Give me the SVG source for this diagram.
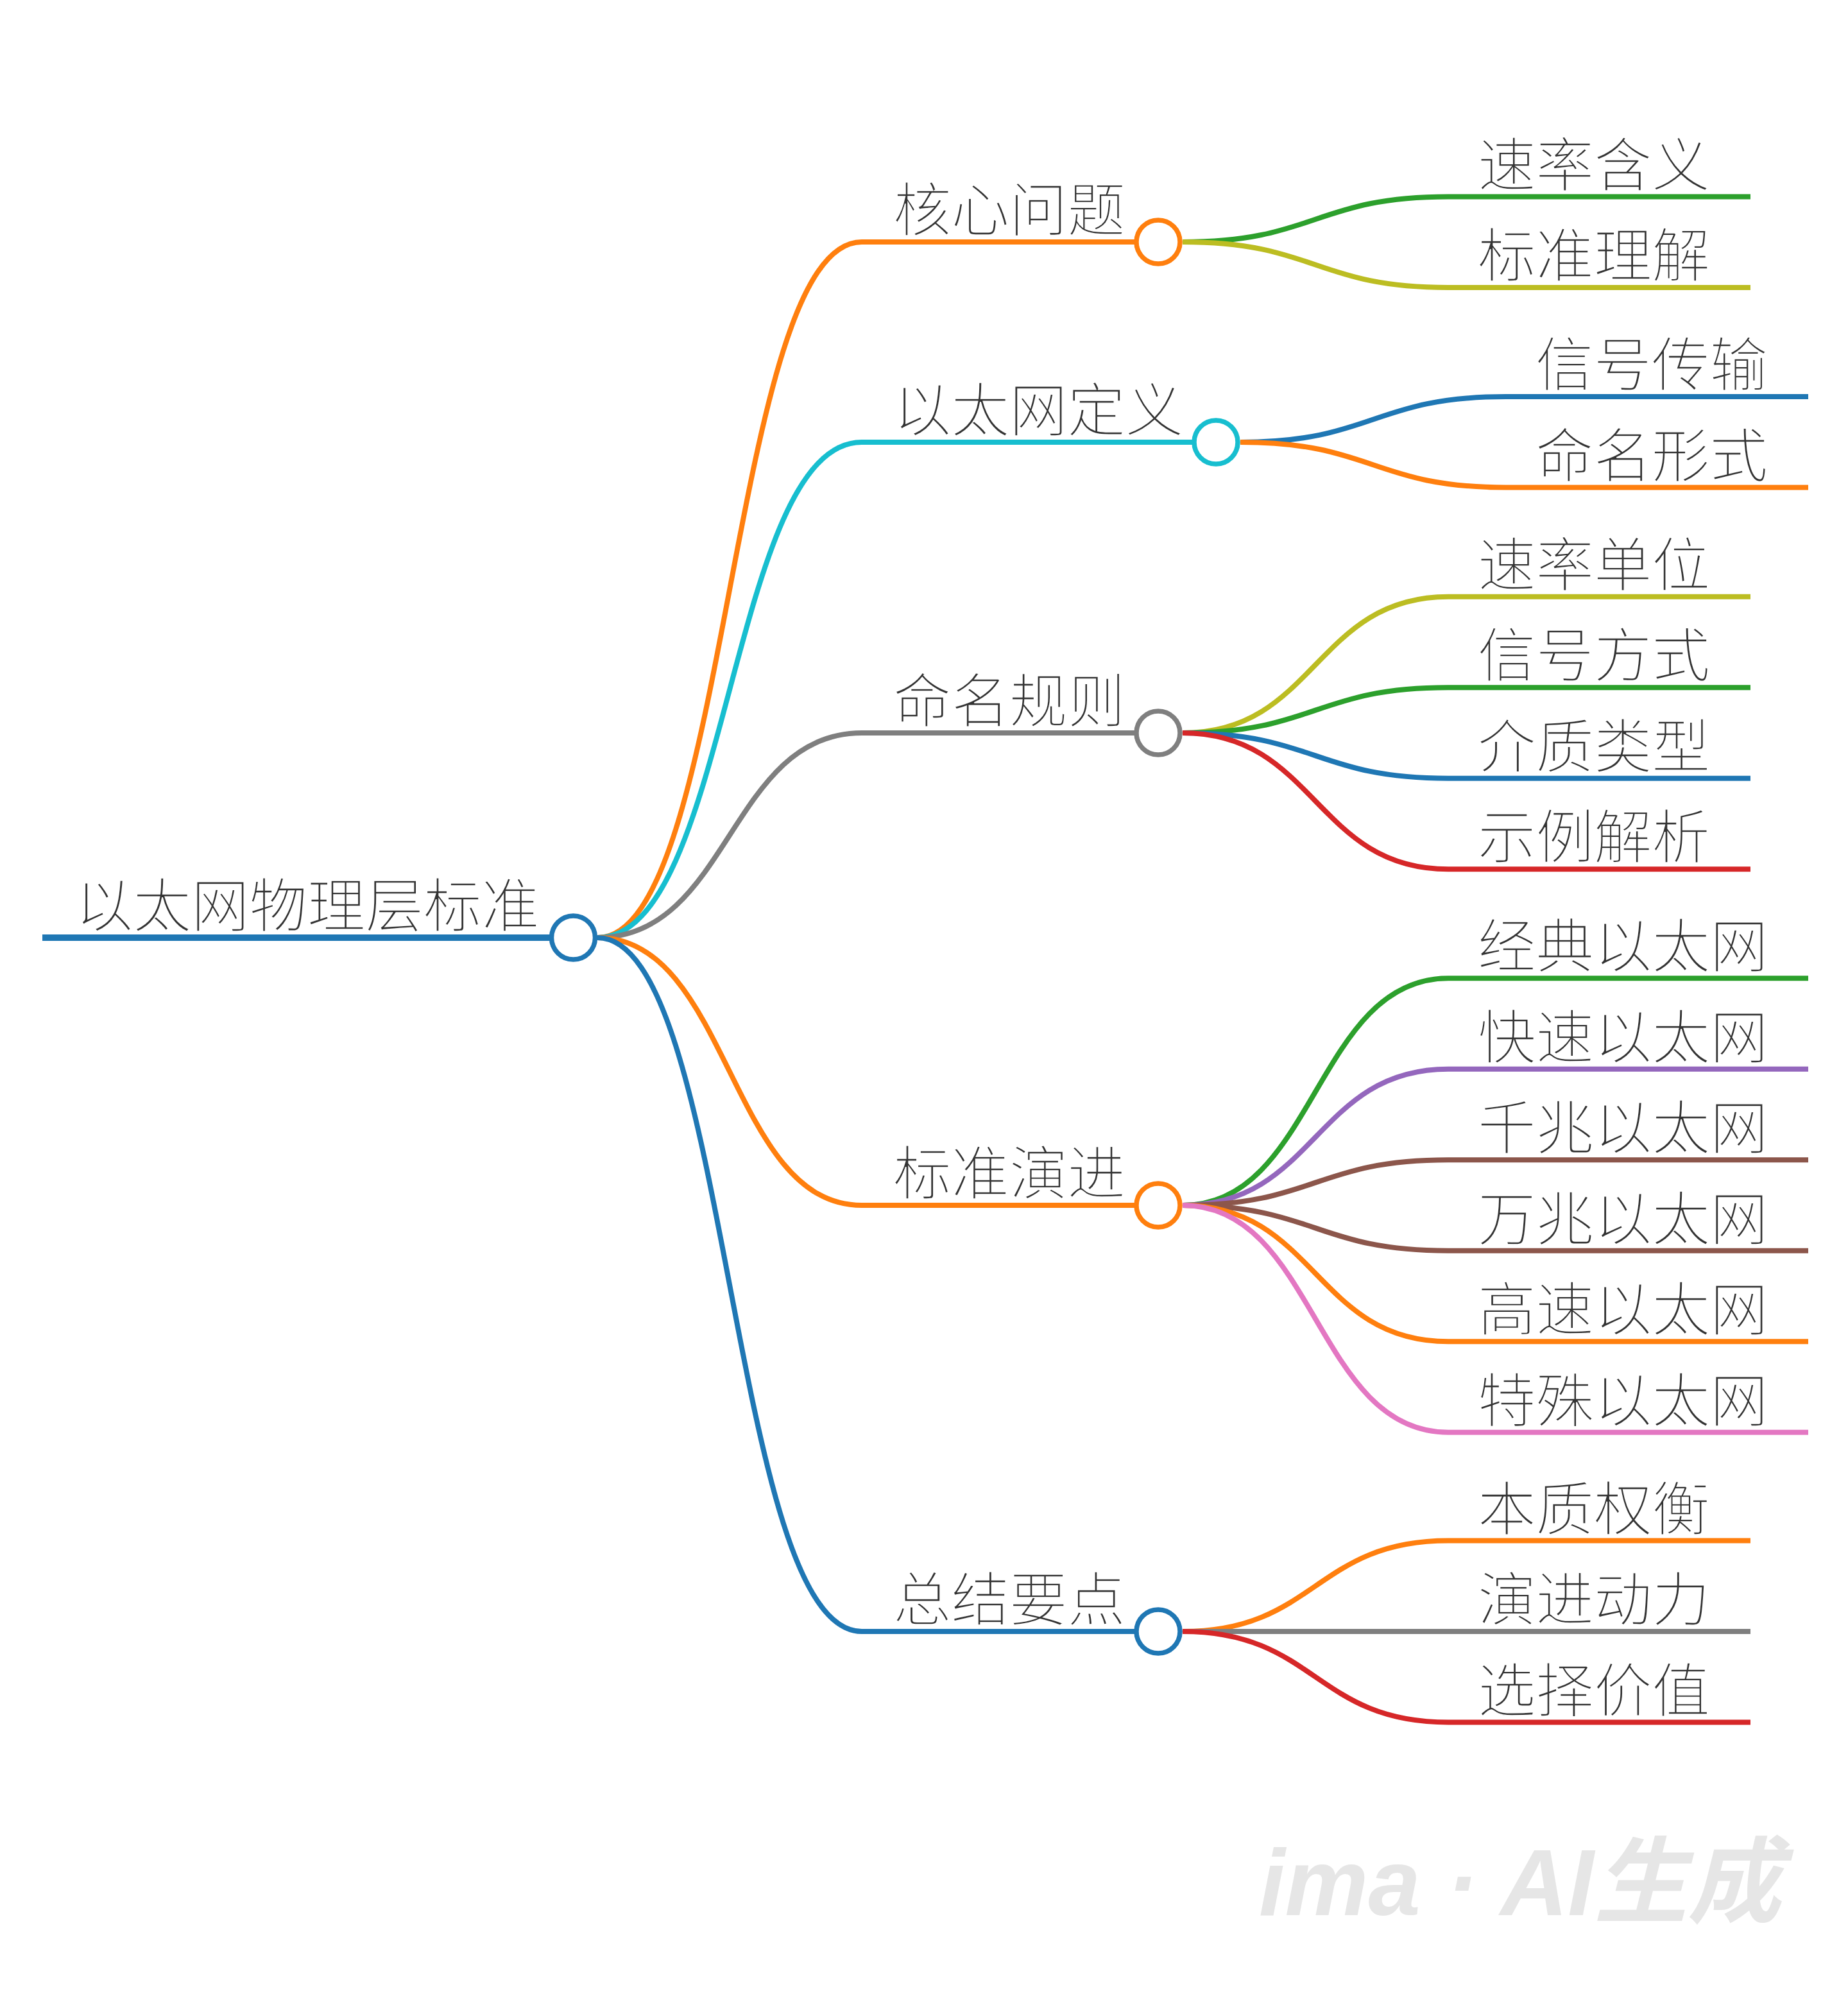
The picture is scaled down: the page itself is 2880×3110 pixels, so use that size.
<svg xmlns="http://www.w3.org/2000/svg" width="2880" height="3110" viewBox="0 0 2880 3110">
<style>
.t{font-family:"Noto Sans CJK SC","Noto Sans",sans-serif;font-size:90.5px;font-weight:300;fill:#333;stroke:#fff;stroke-width:1.6px;paint-order:normal}
.ln{fill:none;stroke-width:8}
.c{fill:#fff;stroke-width:7.5}
.wm{font-family:"Liberation Sans","Noto Sans CJK SC",sans-serif;font-size:146px;font-style:italic;font-weight:bold;fill:#e6e6e6}
</style>
<rect width="2880" height="3110" fill="#fff"/>
<g id="connectors">
<path class="ln" stroke="#ff7f0e" d="M931,1461 C1137,1461 1137,377 1343,377"/>
<path class="ln" stroke="#17becf" d="M931,1461 C1137,1461 1137,689 1343,689"/>
<path class="ln" stroke="#7f7f7f" d="M931,1461 C1137,1461 1137,1142 1343,1142"/>
<path class="ln" stroke="#ff7f0e" d="M931,1461 C1137,1461 1137,1878 1343,1878"/>
<path class="ln" stroke="#1f77b4" d="M931,1461 C1137,1461 1137,2542 1343,2542"/>
<path class="ln" stroke="#2ca02c" d="M1843,377 C2050,377 2050,306.5 2257,306.5"/>
<path class="ln" stroke="#bcbd22" d="M1843,377 C2050,377 2050,448 2257,448"/>
<path class="ln" stroke="#1f77b4" d="M1933,689 C2140,689 2140,618 2347,618"/>
<path class="ln" stroke="#ff7f0e" d="M1933,689 C2140,689 2140,759.5 2347,759.5"/>
<path class="ln" stroke="#bcbd22" d="M1843,1142 C2050,1142 2050,929.75 2257,929.75"/>
<path class="ln" stroke="#2ca02c" d="M1843,1142 C2050,1142 2050,1071.25 2257,1071.25"/>
<path class="ln" stroke="#1f77b4" d="M1843,1142 C2050,1142 2050,1212.75 2257,1212.75"/>
<path class="ln" stroke="#d62728" d="M1843,1142 C2050,1142 2050,1354.25 2257,1354.25"/>
<path class="ln" stroke="#2ca02c" d="M1843,1878 C2050,1878 2050,1524.25 2257,1524.25"/>
<path class="ln" stroke="#9467bd" d="M1843,1878 C2050,1878 2050,1665.75 2257,1665.75"/>
<path class="ln" stroke="#8c564b" d="M1843,1878 C2050,1878 2050,1807.25 2257,1807.25"/>
<path class="ln" stroke="#8c564b" d="M1843,1878 C2050,1878 2050,1948.75 2257,1948.75"/>
<path class="ln" stroke="#ff7f0e" d="M1843,1878 C2050,1878 2050,2090.25 2257,2090.25"/>
<path class="ln" stroke="#e377c2" d="M1843,1878 C2050,1878 2050,2231.75 2257,2231.75"/>
<path class="ln" stroke="#ff7f0e" d="M1843,2542 C2050,2542 2050,2400.5 2257,2400.5"/>
<path class="ln" stroke="#7f7f7f" d="M1843,2542 C2050,2542 2050,2542 2257,2542"/>
<path class="ln" stroke="#d62728" d="M1843,2542 C2050,2542 2050,2683.5 2257,2683.5"/>
</g>
<g id="root">
<line x1="66" y1="1461" x2="860" y2="1461" stroke="#1f77b4" stroke-width="10"/>
<text class="t" x="117" y="1444">以太网物理层标准</text>
<circle class="c" cx="893.5" cy="1461" r="34" stroke="#1f77b4"/>
</g>
<g id="n-hexin">
<line class="ln" x1="1343" y1="377" x2="1770" y2="377" stroke="#ff7f0e"/>
<text class="t" x="1392" y="360">核心问题</text>
<circle class="c" cx="1805" cy="377" r="34" stroke="#ff7f0e"/>
</g>
<g id="n-dingyi">
<line class="ln" x1="1343" y1="689" x2="1860" y2="689" stroke="#17becf"/>
<text class="t" x="1392" y="672">以太网定义</text>
<circle class="c" cx="1895" cy="689" r="34" stroke="#17becf"/>
</g>
<g id="n-mingming">
<line class="ln" x1="1343" y1="1142" x2="1770" y2="1142" stroke="#7f7f7f"/>
<text class="t" x="1392" y="1125">命名规则</text>
<circle class="c" cx="1805" cy="1142" r="34" stroke="#7f7f7f"/>
</g>
<g id="n-yanjin">
<line class="ln" x1="1343" y1="1878" x2="1770" y2="1878" stroke="#ff7f0e"/>
<text class="t" x="1392" y="1861">标准演进</text>
<circle class="c" cx="1805" cy="1878" r="34" stroke="#ff7f0e"/>
</g>
<g id="n-zongjie">
<line class="ln" x1="1343" y1="2542" x2="1770" y2="2542" stroke="#1f77b4"/>
<text class="t" x="1392" y="2525">总结要点</text>
<circle class="c" cx="1805" cy="2542" r="34" stroke="#1f77b4"/>
</g>
<g id="l-sulvhanyi"><line class="ln" x1="2257" y1="306.5" x2="2728" y2="306.5" stroke="#2ca02c"/><text class="t" x="2303" y="289.5">速率含义</text></g>
<g id="l-biaozhunlijie"><line class="ln" x1="2257" y1="448" x2="2728" y2="448" stroke="#bcbd22"/><text class="t" x="2303" y="431">标准理解</text></g>
<g id="l-xinhaochuanshu"><line class="ln" x1="2347" y1="618" x2="2818" y2="618" stroke="#1f77b4"/><text class="t" x="2393" y="601">信号传输</text></g>
<g id="l-mingmingxingshi"><line class="ln" x1="2347" y1="759.5" x2="2818" y2="759.5" stroke="#ff7f0e"/><text class="t" x="2393" y="742.5">命名形式</text></g>
<g id="l-sulvdanwei"><line class="ln" x1="2257" y1="929.75" x2="2728" y2="929.75" stroke="#bcbd22"/><text class="t" x="2303" y="912.75">速率单位</text></g>
<g id="l-xinhaofangshi"><line class="ln" x1="2257" y1="1071.25" x2="2728" y2="1071.25" stroke="#2ca02c"/><text class="t" x="2303" y="1054.25">信号方式</text></g>
<g id="l-jiezhileixing"><line class="ln" x1="2257" y1="1212.75" x2="2728" y2="1212.75" stroke="#1f77b4"/><text class="t" x="2303" y="1195.75">介质类型</text></g>
<g id="l-shilijiexi"><line class="ln" x1="2257" y1="1354.25" x2="2728" y2="1354.25" stroke="#d62728"/><text class="t" x="2303" y="1337.25">示例解析</text></g>
<g id="l-jingdian"><line class="ln" x1="2257" y1="1524.25" x2="2818" y2="1524.25" stroke="#2ca02c"/><text class="t" x="2303" y="1507.25">经典以太网</text></g>
<g id="l-kuaisu"><line class="ln" x1="2257" y1="1665.75" x2="2818" y2="1665.75" stroke="#9467bd"/><text class="t" x="2303" y="1648.75">快速以太网</text></g>
<g id="l-qianzhao"><line class="ln" x1="2257" y1="1807.25" x2="2818" y2="1807.25" stroke="#8c564b"/><text class="t" x="2303" y="1790.25">千兆以太网</text></g>
<g id="l-wanzhao"><line class="ln" x1="2257" y1="1948.75" x2="2818" y2="1948.75" stroke="#8c564b"/><text class="t" x="2303" y="1931.75">万兆以太网</text></g>
<g id="l-gaosu"><line class="ln" x1="2257" y1="2090.25" x2="2818" y2="2090.25" stroke="#ff7f0e"/><text class="t" x="2303" y="2073.25">高速以太网</text></g>
<g id="l-teshu"><line class="ln" x1="2257" y1="2231.75" x2="2818" y2="2231.75" stroke="#e377c2"/><text class="t" x="2303" y="2214.75">特殊以太网</text></g>
<g id="l-benzhi"><line class="ln" x1="2257" y1="2400.5" x2="2728" y2="2400.5" stroke="#ff7f0e"/><text class="t" x="2303" y="2383.5">本质权衡</text></g>
<g id="l-dongli"><line class="ln" x1="2257" y1="2542" x2="2728" y2="2542" stroke="#7f7f7f"/><text class="t" x="2303" y="2525">演进动力</text></g>
<g id="l-jiazhi"><line class="ln" x1="2257" y1="2683.5" x2="2728" y2="2683.5" stroke="#d62728"/><text class="t" x="2303" y="2666.5">选择价值</text></g>
<text class="wm" x="1962" y="2984">ima · AI生成</text>
</svg>
